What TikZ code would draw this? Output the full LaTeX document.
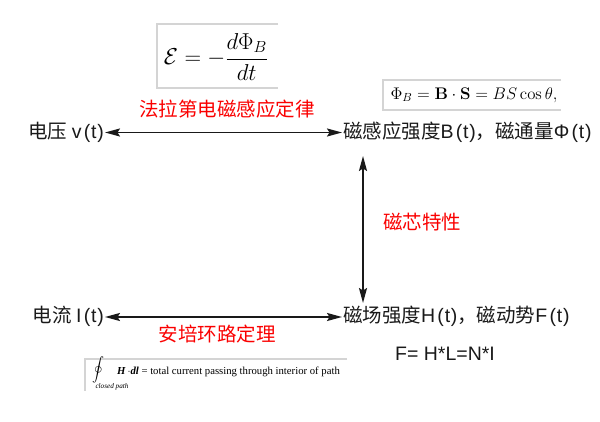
\RequirePackage{fix-cm}
\documentclass[tikz,border=0pt]{standalone}
\usepackage{amsmath}
\usepackage[no-math]{fontspec}
\setmainfont{Liberation Sans}
\newfontfamily\cjk{Noto Sans CJK SC}
\newfontfamily\serifB{Liberation Serif}
\usetikzlibrary{arrows.meta}
\definecolor{boxgray}{RGB}{212,212,212}
\definecolor{lblred}{RGB}{250,0,0}
\newcommand\ofT[1]{#1\kern2.2pt(\kern0.8pt t\kern0.8pt)}
\tikzset{
  qty/.style={inner sep=1pt, font=\fontsize{19.5}{23}\selectfont, text=black!90},
  law/.style={inner sep=0pt, font=\fontsize{19.5}{23}\selectfont\cjk, text=lblred},
  arr/.style={line width=1.8pt, draw=black!90, {Stealth[length=15pt,width=8pt,inset=2.5pt]}-{Stealth[length=15pt,width=8pt,inset=2.5pt]}},
  frame/.style={draw=boxgray, line width=1.2pt},
  fml/.style={inner sep=0pt}
}
\begin{document}
\begin{tikzpicture}[x=1pt,y=-1pt]
\useasboundingbox (0,0) rectangle (600,422);
% formula frames
\draw[frame] (278,24) -- (157,24) -- (157,88) -- (278,88);
\draw[frame] (561,80) -- (383,80) -- (383,110) -- (561,110);
\draw[frame] (347,359) -- (85,359) -- (85,391);
% formulas
\node[fml] (emf) at (216,57) {\fontsize{23}{27}\selectfont$\displaystyle \mathcal{E} = -\frac{d\Phi_B}{dt}$};
\node[fml] (phi) at (474,95) {\fontsize{16.8}{19}\selectfont$\Phi_B = \mathbf{B}\cdot\mathbf{S} = BS\cos\theta,$};
\node[fml] (oint) at (98,370) {\fontsize{13}{15}\selectfont$\displaystyle\oint$};
\node[fml] (cpath) at (112,387) {\serifB\itshape\fontsize{7.2}{9}\selectfont closed path};
\node[fml, anchor=west] (amp) at (117,372) {\serifB\fontsize{10.7}{12}\selectfont\textbf{\textit{H}}\,$\cdot$\textbf{\textit{dl}} = total current passing through interior of path};
% quantities
\node[qty, anchor=base east] (v) at (105,139) {\cjk 电压 \rmfamily\ofT{v}};
\node[qty, anchor=base west] (B) at (342,139) {\cjk 磁感应强度\rmfamily\ofT{B}\cjk ，磁通量\rmfamily\ofT{Φ}};
\node[qty, anchor=base east] (I) at (105,323) {\cjk 电流 \rmfamily\ofT{I}};
\node[qty, anchor=base west] (H) at (342,323) {\cjk 磁场强度\rmfamily\ofT{H}\cjk ，磁动势\rmfamily\ofT{F}};
\node[qty, anchor=base west] (Feq) at (394,360) {F= H*L=N*I};
% law labels
\node[law, anchor=base] (faraday) at (227,117) {法拉第电磁感应定律};
\node[law, anchor=base] (ampere) at (217,341) {安培环路定理};
\node[law, anchor=base west] (core) at (383,230) {磁芯特性};
% connectors
\coordinate (vtop) at (363,156);
\coordinate (vbot) at (363,303);
\draw[arr] ([yshift=6.5pt]v.base east) -- ([yshift=6.5pt]B.base west);
\draw[arr] ([yshift=6pt]I.base east) -- ([yshift=6pt]H.base west);
\draw[arr] (vtop) -- (vbot);
\end{tikzpicture}
\end{document}
